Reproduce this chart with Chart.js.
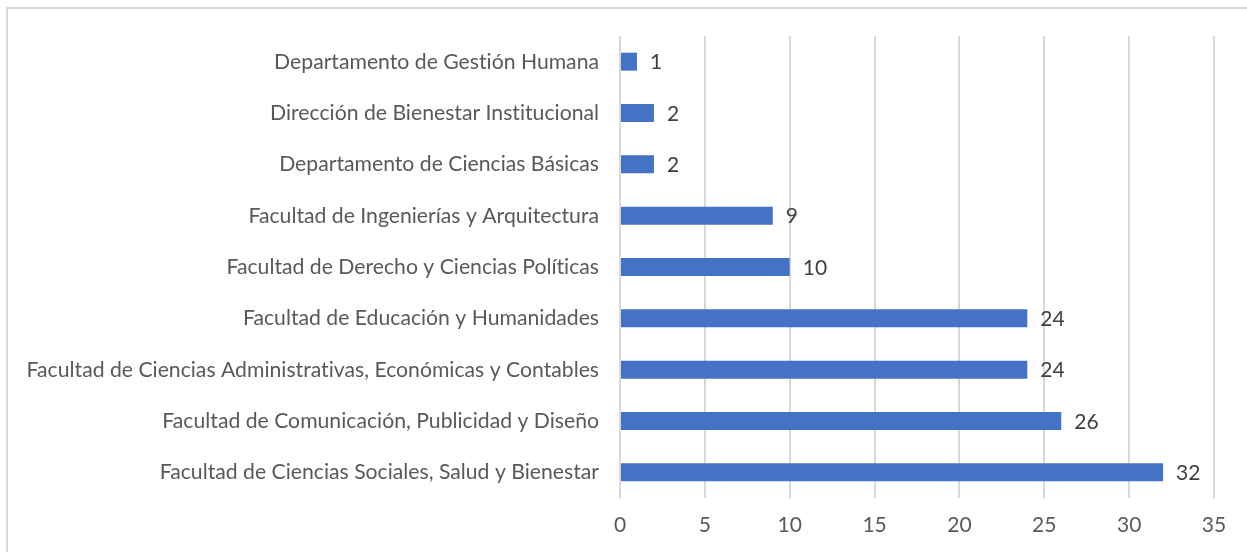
<!DOCTYPE html>
<html>
<head>
<meta charset="utf-8">
<script src="https://cdn.jsdelivr.net/npm/chart.js@4/dist/chart.umd.min.js"></script>
<style>
  html, body { margin: 0; padding: 0; background: #fff; overflow: hidden; }
  #frame { position: absolute; left: 6px; top: 7px; width: 1300px; height: 600px; border: 2px solid #d9d9d9; }
  #wrap { position: absolute; left: 0; top: 0; width: 1247px; height: 552px; }
</style>
</head>
<body>
<div id="frame"></div>
<div id="wrap"><canvas id="chart"></canvas></div>
<script>
const categories = [
    'Departamento de Gestión Humana',
    'Dirección de Bienestar Institucional',
    'Departamento de Ciencias Básicas',
    'Facultad de Ingenierías y Arquitectura',
    'Facultad de Derecho y Ciencias Políticas',
    'Facultad de Educación y Humanidades',
    'Facultad de Ciencias Administrativas, Económicas y Contables',
    'Facultad de Comunicación, Publicidad y Diseño',
    'Facultad de Ciencias Sociales, Salud y Bienestar',
];
const values = [1, 2, 2, 9, 10, 24, 24, 26, 32];

const FONT = 'Lato, "Liberation Sans", sans-serif';

// no "ti" ligatures
const plainText = {
    id: 'plainText',
    beforeDraw(chart) {
        chart.ctx.textRendering = 'optimizeSpeed';
        if ('fontVariantLigatures' in chart.ctx) chart.ctx.fontVariantLigatures = 'none';
    }
};

// value labels at the end of each bar
const barLabels = {
    id: 'barLabels',
    afterDatasetsDraw(chart) {
        const ctx = chart.ctx;
        const meta = chart.getDatasetMeta(0);
        ctx.save();
        ctx.font = '21px ' + FONT;
        ctx.fillStyle = '#404040';
        ctx.textBaseline = 'middle';
        ctx.textAlign = 'left';
        meta.data.forEach((bar, i) => {
            ctx.fillText(String(values[i]), bar.x + 13, bar.y + 1);
        });
        ctx.restore();
    }
};

new Chart(document.getElementById('chart'), {
    type: 'bar',
    data: {
        labels: categories,
        datasets: [{
            data: values,
            backgroundColor: '#4472c4',
            categoryPercentage: 0.7,
            barPercentage: 0.5,
        }],
    },
    options: {
        indexAxis: 'y',
        responsive: true,
        maintainAspectRatio: false,
        animation: false,
        layout: { padding: { top: 36, right: 33, bottom: 0, left: 0 } },
        plugins: { legend: { display: false }, tooltip: { enabled: false } },
        scales: {
            x: {
                min: 0,
                max: 35,
                ticks: { stepSize: 5, color: '#595959', font: { family: FONT, size: 21 }, padding: 15 },
                grid: { color: '#d9d9d9', lineWidth: 2, drawTicks: false },
                border: { display: false },
                afterFit: s => { s.height = 54; },
            },
            y: {
                ticks: { color: '#595959', font: { family: FONT, size: 21.2 }, padding: 21 },
                grid: { display: false, drawTicks: false },
                border: { display: false },
                afterFit: s => { s.width = 620; },
            },
        },
    },
    plugins: [plainText, barLabels],
});
</script>
</body>
</html>
